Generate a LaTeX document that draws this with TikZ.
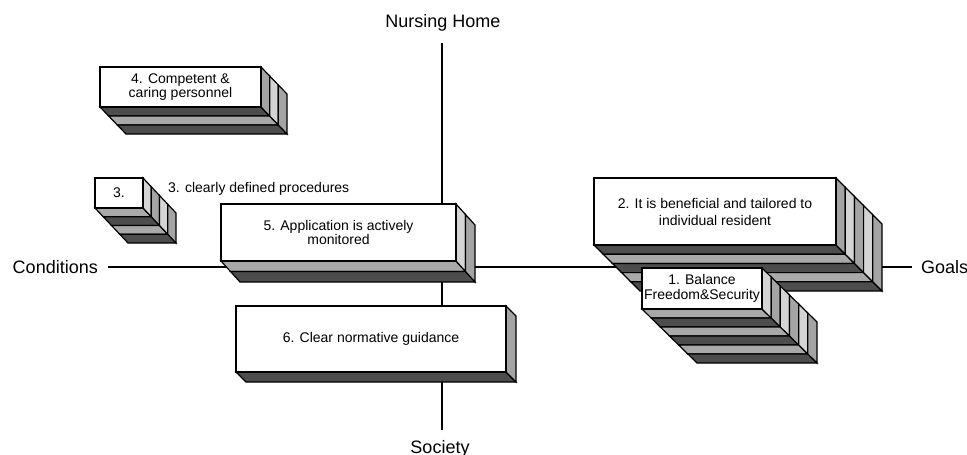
\documentclass[tikz,border=0pt]{standalone}
\usepackage{fontspec}
\setmainfont{Liberation Sans}
\definecolor{darkg}{HTML}{4D4D4D}
\definecolor{lightg}{HTML}{A9A9A9}
\definecolor{midg}{HTML}{A4A4A4}
\definecolor{paleg}{HTML}{D4D4D4}
\tikzset{
  axisline/.style={line width=2pt},
  face/.style={draw=black, line width=1.2pt, line join=miter},
  front/.style={face, fill=white, align=center, inner sep=0pt,
    font=\fontsize{14}{14.5}\selectfont},
  axlabel/.style={font=\fontsize{18}{20}\selectfont, inner sep=0pt},
  plainlabel/.style={font=\fontsize{14}{14.5}\selectfont, inner sep=0pt},
}
% name, x1, y1, x2, y2, dx, dy, n, text
\newcommand{\slab}[9]{%
  \foreach \kk in {1,...,#8}{%
    \pgfmathsetmacro\sA{(\kk-1)/#8}%
    \pgfmathsetmacro\sB{\kk/#8}%
    \pgfmathtruncatemacro\pp{mod(#8-\kk,2)}%
    \ifnum\pp=0 \def\bc{darkg}\def\sc{midg}\else\def\bc{lightg}\def\sc{paleg}\fi
    \filldraw[face,fill=\bc] ({#2+\sA*#6},{#5+\sA*#7}) -- ({#4+\sA*#6},{#5+\sA*#7})
      -- ({#4+\sB*#6},{#5+\sB*#7}) -- ({#2+\sB*#6},{#5+\sB*#7}) -- cycle;
    \filldraw[face,fill=\sc] ({#4+\sA*#6},{#3+\sA*#7}) -- ({#4+\sA*#6},{#5+\sA*#7})
      -- ({#4+\sB*#6},{#5+\sB*#7}) -- ({#4+\sB*#6},{#3+\sB*#7}) -- cycle;
  }%
  \node[front, minimum width={(#4-#2)*1pt}, minimum height={(#5-#3)*1pt}]
    (#1) at ({(#2+#4)/2},{(#3+#5)/2}) {#9};%
}
\begin{document}
\begin{tikzpicture}[x=1pt,y=-1pt]
\useasboundingbox (0,0) rectangle (967,455);
% axes
\node[axlabel, anchor=base] (nh) at (443,27.5) {Nursing Home};
\node[axlabel, anchor=base] (soc) at (440,453) {Society};
\node[axlabel, anchor=base east] (cond) at (98,273.5) {Conditions};
\node[axlabel, anchor=base west] (goals) at (921,273.5) {Goals};
\coordinate (hl) at (108,267);
\coordinate (hr) at (912,267);
\coordinate (vt) at (442,43);
\coordinate (vb) at (442,430);
\draw[axisline] (hl) -- (hr);
\draw[axisline] (vt) -- (vb);
% boxes
\slab{b4}{100}{67}{261}{107}{26}{27}{3}{4. Competent \&\\caring personnel}
\slab{b3}{95}{178}{143}{208}{33}{35}{4}{3.}
\node[plainlabel, anchor=base west] (t3) at (168,192.5) {3. clearly defined procedures};
\slab{b5}{221}{204}{456}{261}{19}{21}{2}{5. Application is actively\\monitored}
\slab{b6}{236}{306}{506}{372}{10}{10}{1}{6. Clear normative guidance}
\slab{b2}{594}{178}{836}{245}{46}{46}{5}{2. It is beneficial and tailored to\\[2.5pt]individual resident}
\slab{b1}{642}{268}{762}{309}{55}{54}{6}{1. Balance\\Freedom\&Security}
\end{tikzpicture}
\end{document}
